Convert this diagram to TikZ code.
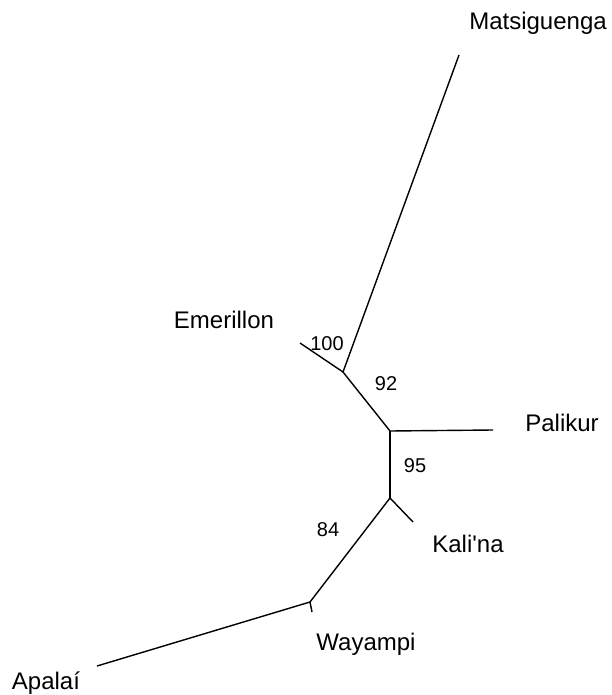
\documentclass[tikz,border=0pt]{standalone}
\usepackage{fontspec}
\setmainfont{Liberation Sans}[Ligatures=TeXOff]
\begin{document}
\begin{tikzpicture}[x=1pt,y=-1pt,
  branch/.style={line width=1.4pt},
  taxon/.style={anchor=base,inner sep=0pt,font=\fontsize{24}{28}\selectfont},
  support/.style={anchor=base,inner sep=0pt,font=\fontsize{20}{24}\selectfont}]
\useasboundingbox (0,0) rectangle (612,695);
% internal nodes
\coordinate (A) at (343,372);
\coordinate (B) at (390,431);
\coordinate (C) at (390,498);
\coordinate (D) at (310,602);
% leaf tips
\coordinate (tM) at (459,55);
\coordinate (tE) at (300,343);
\coordinate (tP) at (493,430);
\coordinate (tK) at (413,522);
\coordinate (tW) at (312,612);
\coordinate (tA) at (97,666);
% branches
\draw[branch] (tM) -- (A);
\draw[branch] (tE) -- (A);
\draw[branch] (A) -- (B);
\draw[branch] (B) -- (tP);
\draw[branch] (B) -- (C);
\draw[branch] (C) -- (tK);
\draw[branch] (C) -- (D);
\draw[branch] (D) -- (tW);
\draw[branch] (D) -- (tA);
% taxon names
\node[taxon] (lM) at (538,30) {Matsiguenga};
\node[taxon] (lE) at (224,328) {Emerillon};
\node[taxon] (lP) at (562,431) {Palikur};
\node[taxon] (lK) at (468,552) {Kali'na};
\node[taxon] (lW) at (366,650) {Wayampi};
\node[taxon] (lA) at (46,689) {Apalaí};
% bootstrap support
\node[support] (s100) at (327,350) {100};
\node[support] (s92) at (386,390) {92};
\node[support] (s95) at (415,472) {95};
\node[support] (s84) at (328,536) {84};
\end{tikzpicture}
\end{document}
